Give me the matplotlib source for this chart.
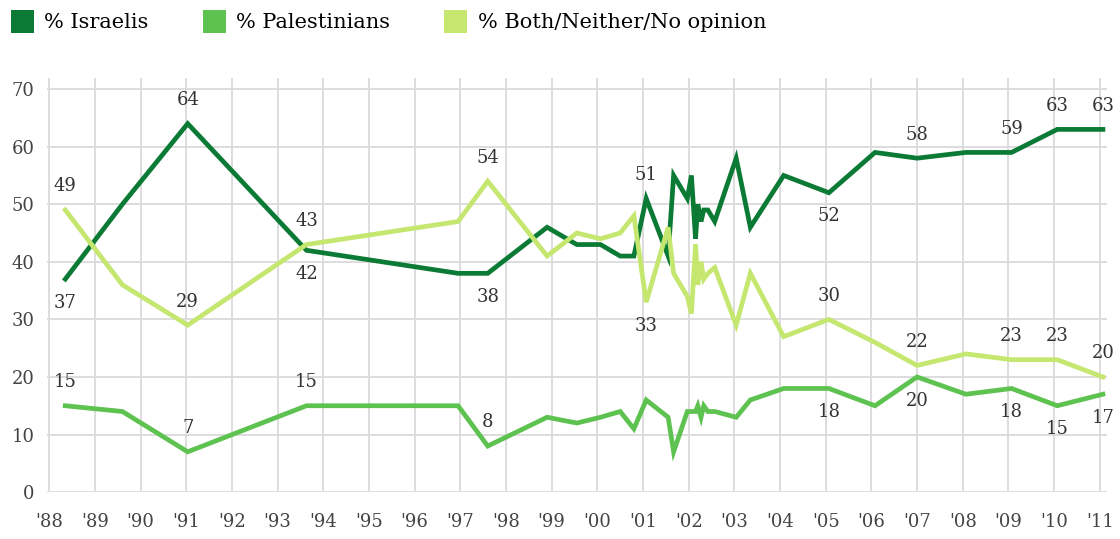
import matplotlib.pyplot as plt
from matplotlib.patches import Patch

# survey dates as decimal years
years = [1988.35, 1989.6, 1991.03, 1993.63, 1996.95, 1997.6, 1998.9, 1999.55,
         2000.07, 2000.5, 2000.8, 2001.07, 2001.55, 2001.67, 2001.97, 2002.06,
         2002.15, 2002.2, 2002.27, 2002.33, 2002.42, 2002.57, 2003.04, 2003.35,
         2004.08, 2005.07, 2006.08, 2007.0, 2008.07, 2009.07, 2010.07, 2011.07]

israelis = [37, 50, 64, 42, 38, 38, 46, 43, 43, 41, 41, 51, 41, 55, 51, 55,
            44, 50, 47, 49, 49, 47, 58, 46, 55, 52, 59, 58, 59, 59, 63, 63]
palestinians = [15, 14, 7, 15, 15, 8, 13, 12, 13, 14, 11, 16, 13, 7, 14, 14,
                14, 15, 13, 15, 14, 14, 13, 16, 18, 18, 15, 20, 17, 18, 15, 17]
both = [49, 36, 29, 43, 47, 54, 41, 45, 44, 45, 48, 33, 46, 38, 34, 31,
        43, 36, 40, 37, 38, 39, 29, 38, 27, 30, 26, 22, 24, 23, 23, 20]

series_names = ["% Israelis", "% Palestinians", "% Both/Neither/No opinion"]
colors = ["#0b7a35", "#5dc24f", "#c5e770"]

tick_years = list(range(1988, 2012))
tick_labels = ["'%02d" % (y % 100) for y in tick_years]

# which points get a value label, and whether it sits above (+1) or below (-1)
isr_labels = {0: -1, 2: 1, 3: -1, 5: -1, 11: 1, 25: -1, 27: 1, 29: 1, 30: 1, 31: 1}
pal_labels = {0: 1, 2: 1, 3: 1, 5: 1, 25: -1, 27: -1, 29: -1, 30: -1, 31: -1}
both_labels = {0: 1, 2: 1, 3: 1, 5: 1, 11: -1, 25: 1, 27: 1, 29: 1, 30: 1, 31: 1}

plt.rcParams['font.family'] = ['DejaVu Serif']
fs = 13

fig = plt.figure(figsize=(11.2, 5.39), dpi=100)
ax = fig.add_axes([0.042, 0.087, 0.946, 0.768])

for vals, c in zip([israelis, palestinians, both], colors):
    ax.plot(years, vals, color=c, lw=3.4, solid_joinstyle='miter', zorder=3)

for vals, labs in [(israelis, isr_labels), (palestinians, pal_labels), (both, both_labels)]:
    for i, side in labs.items():
        ax.annotate(str(vals[i]), (years[i], vals[i]), xytext=(0, 17 * side),
                    textcoords='offset points', ha='center', va='center',
                    fontsize=fs, color='#333333', zorder=4)

ax.set_xlim(1987.95, 2011.15)
ax.set_ylim(0, 71.9)
ax.set_xticks(tick_years)
ax.set_xticklabels(tick_labels)
ax.set_yticks(range(0, 80, 10))
ax.grid(True, color='#dadada', lw=1.3, zorder=0)
ax.set_axisbelow(True)
for s in ax.spines.values():
    s.set_visible(False)
ax.tick_params(length=0, labelsize=fs, labelcolor='#444444')
ax.tick_params(axis='x', pad=15)
ax.tick_params(axis='y', pad=9)

handles = [Patch(facecolor=c, edgecolor='none') for c in colors]
fig.legend(handles=handles, labels=series_names, loc='upper left',
           bbox_to_anchor=(0.006, 0.99), ncol=3, frameon=False, fontsize=15,
           handlelength=1.1, handleheight=1.35, handletextpad=0.5,
           columnspacing=2.6, borderaxespad=0, borderpad=0.2)

fig.savefig("out.png", dpi=100)
